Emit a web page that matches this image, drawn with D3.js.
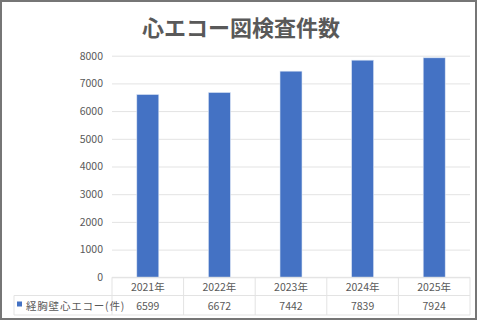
<!DOCTYPE html>
<html><head><meta charset="utf-8">
<script src="https://cdn.jsdelivr.net/npm/d3@7"></script>
<style>
html,body{margin:0;padding:0;background:#fff;}
svg{display:block;font-family:"Noto Sans CJK JP","Noto Sans",sans-serif;}
</style></head>
<body>
<script>
const title = "心エコー図検査件数";
const categories = ["2021年","2022年","2023年","2024年","2025年"];
const seriesName = "経胸壁心エコー(件)";
const values = [6599, 6672, 7442, 7839, 7924];
const yTicks = [0,1000,2000,3000,4000,5000,6000,7000,8000];

(function(){
const W = 480, H = 322;
const svg = d3.select("body").append("svg").attr("width", W).attr("height", H);

// outer frame
svg.append("rect").attr("x",1).attr("y",1).attr("width",475).attr("height",318)
  .attr("fill","#fff").attr("stroke","#767676").attr("stroke-width",2);

const pLeft = 112, pRight = 470, pTop = 55.7, pBottom = 277.3;
const x = d3.scaleBand().domain(categories).range([pLeft, pRight]);
const y = d3.scaleLinear().domain([0, 8000]).range([pBottom, pTop]);

const textColor = "#595959";
const gridColor = "#e3e3e3";

// title
svg.append("text").attr("x", 241).attr("y", 36).attr("text-anchor","middle")
  .attr("font-size", 22).attr("font-weight","bold").attr("fill", textColor).text(title);

// gridlines + y axis
const yAxis = d3.axisLeft(y).tickValues(yTicks).tickSize(-(pRight-pLeft)).tickPadding(9).tickFormat(d3.format("d"));
const gy = svg.append("g").attr("transform",`translate(${pLeft},0)`).call(yAxis);
gy.select(".domain").remove();
gy.selectAll(".tick line").attr("stroke", gridColor).attr("stroke-width",1);
gy.selectAll(".tick text").attr("fill", textColor).attr("font-size", 10.5)
  .attr("font-family",'"Noto Sans CJK JP",sans-serif');

// bars
const barW = 22;
svg.append("g").selectAll("rect").data(values).join("rect")
  .attr("x", (d,i) => x(categories[i]) + x.bandwidth()/2 - barW/2)
  .attr("y", d => y(d))
  .attr("width", barW)
  .attr("height", d => y(0) - y(d))
  .attr("fill", "#4472C4")
  .attr("stroke","#dde6f5").attr("stroke-width",0.6);

// data table
const rowTop = pBottom, rowMid = 295.5, rowBot = 315, tblLeft = 14;
const tg = svg.append("g").attr("stroke", gridColor).attr("stroke-width",1).attr("fill","none");
tg.append("line").attr("x1",pLeft).attr("x2",pRight).attr("y1",rowTop).attr("y2",rowTop);
tg.append("line").attr("x1",tblLeft).attr("x2",pRight).attr("y1",rowMid).attr("y2",rowMid);
tg.append("line").attr("x1",tblLeft).attr("x2",pRight).attr("y1",rowBot).attr("y2",rowBot);
tg.append("line").attr("x1",tblLeft).attr("x2",tblLeft).attr("y1",rowMid).attr("y2",rowBot);
const xs = categories.map(c => x(c)).concat([pRight]);
xs.forEach(v => tg.append("line").attr("x1",v).attr("x2",v).attr("y1",rowTop).attr("y2",rowBot));

// category labels
svg.append("g").selectAll("text").data(categories).join("text")
  .attr("x", d => x(d) + x.bandwidth()/2).attr("y", 290.5)
  .attr("text-anchor","middle").attr("font-size",10.5).attr("fill",textColor).text(d => d);

// values
svg.append("g").selectAll("text").data(values).join("text")
  .attr("x", (d,i) => x(categories[i]) + x.bandwidth()/2).attr("y", 309.5)
  .attr("text-anchor","middle").attr("font-size",10.5).attr("fill",textColor).text(d => d);

// legend key
svg.append("rect").attr("x",17).attr("y",301.5).attr("width",5).attr("height",5).attr("fill","#4472C4");
svg.append("text").attr("x",26).attr("y",309.5).attr("font-size",10.5)
  .attr("letter-spacing",0.8).attr("fill",textColor).text(seriesName);
})();
</script>
</body></html>
